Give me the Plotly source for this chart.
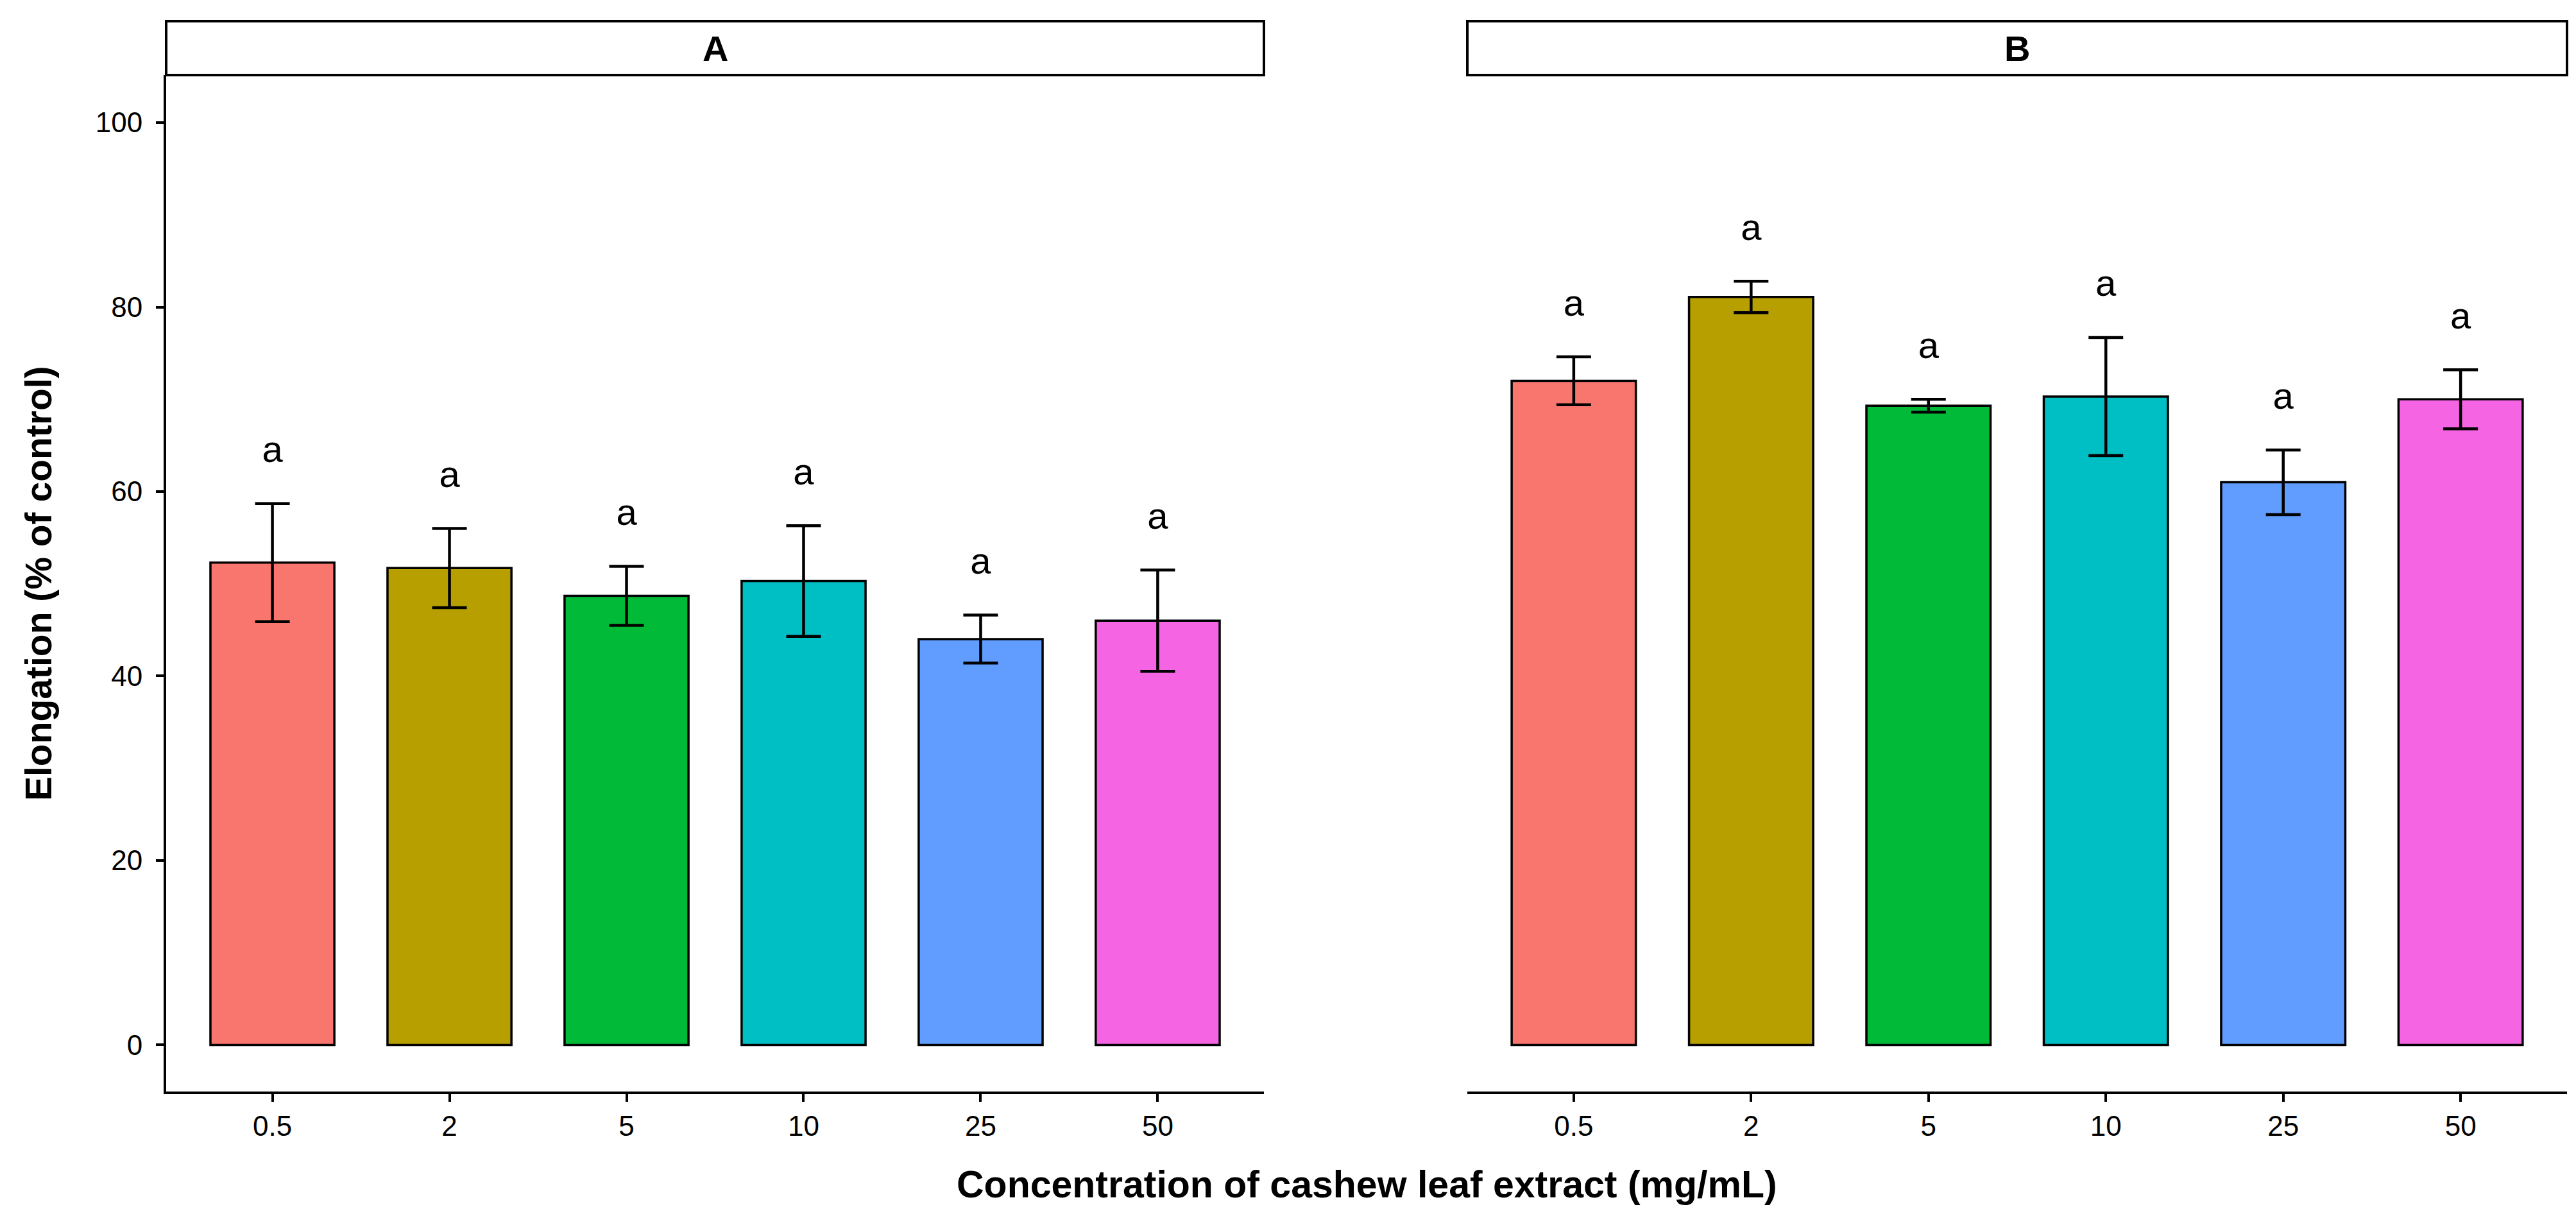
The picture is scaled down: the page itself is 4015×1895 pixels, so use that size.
import plotly.graph_objects as go

W, H = 4015, 1895

concentrations = ["0.5", "2", "5", "10", "25", "50"]
bar_colors = ["#F8766D", "#B79F00", "#00BA38", "#00BFC4", "#619CFF", "#F564E3"]

panel_labels = ["A", "B"]
mean_A = [52.3, 51.7, 48.7, 50.3, 44.0, 46.0]
sd_A = [6.4, 4.3, 3.2, 6.0, 2.6, 5.5]
mean_B = [72.0, 81.1, 69.3, 70.3, 61.0, 70.0]
sd_B = [2.6, 1.7, 0.7, 6.4, 3.5, 3.2]
letters_A = ["a", "a", "a", "a", "a", "a"]
letters_B = ["a", "a", "a", "a", "a", "a"]

y_ticks = [0, 20, 40, 60, 80, 100]
x_title = "Concentration of cashew leaf extract (mg/mL)"
y_title = "Elongation (% of control)"

FONT = "Liberation Sans, Arial, Helvetica, sans-serif"
LETTER_GAP = 5.5

def px_x(p):
    return p / W

def px_y(p):
    return 1 - p / H

domA = [px_x(251), px_x(1962)]
domB = [px_x(2279), px_x(3993)]
domY = [px_y(1693), px_y(109)]

fig = go.Figure()

panels = [
    (mean_A, sd_A, letters_A, "x", "y"),
    (mean_B, sd_B, letters_B, "x2", "y2"),
]
for means, sds, letters, xa, ya in panels:
    fig.add_trace(go.Bar(
        x=concentrations, y=means, xaxis=xa, yaxis=ya,
        width=0.7,
        marker=dict(color=bar_colors, line=dict(color="black", width=3.5)),
        error_y=dict(type="data", array=sds, visible=True,
                     color="black", thickness=4.5, width=27),
        showlegend=False, hoverinfo="skip",
    ))
    fig.add_trace(go.Scatter(
        x=concentrations, y=[m + s + LETTER_GAP for m, s in zip(means, sds)],
        xaxis=xa, yaxis=ya, mode="text", text=letters,
        textposition="middle center",
        textfont=dict(family=FONT, size=58, color="black"),
        showlegend=False, hoverinfo="skip",
    ))

xaxis_common = dict(
    type="category", range=[-0.6, 5.6],
    showline=True, linecolor="black", linewidth=4,
    ticks="outside", ticklen=12, tickwidth=4, tickcolor="black",
    tickfont=dict(family=FONT, size=44, color="black"),
    ticklabelstandoff=0,
    showgrid=False, zeroline=False, fixedrange=True,
)
yaxis_common = dict(
    range=[-5.05, 105.15], tickvals=y_ticks,
    showgrid=False, zeroline=False, fixedrange=True,
)

fig.update_layout(
    width=W, height=H,
    margin=dict(l=0, r=0, t=0, b=0),
    paper_bgcolor="white", plot_bgcolor="white",
    bargap=0.3,
    xaxis=dict(domain=domA, anchor="y", **xaxis_common),
    xaxis2=dict(domain=domB, anchor="y2", **xaxis_common),
    yaxis=dict(domain=domY, anchor="x",
               showline=True, linecolor="black", linewidth=4,
               ticks="outside", ticklen=12, tickwidth=4, tickcolor="black",
               tickfont=dict(family=FONT, size=44, color="black"),
               ticklabelstandoff=12,
               **yaxis_common),
    yaxis2=dict(domain=domY, anchor="x2", showline=False,
                showticklabels=False, ticks="", **yaxis_common),
)

# facet strips
strip_y0, strip_y1 = px_y(109), px_y(25)
for dom, lab in zip([domA, domB], panel_labels):
    fig.add_shape(type="rect", xref="paper", yref="paper",
                  x0=dom[0], x1=dom[1], y0=strip_y0, y1=strip_y1,
                  line=dict(color="black", width=4), fillcolor="white", layer="above")
    fig.add_annotation(xref="paper", yref="paper",
                       x=(dom[0] + dom[1]) / 2, y=px_y(67),
                       text="<b>%s</b>" % lab, showarrow=False,
                       xanchor="center", yanchor="middle",
                       font=dict(family=FONT, size=56, color="black"))

# axis titles
fig.add_annotation(xref="paper", yref="paper",
                   x=(domA[0] + domB[1]) / 2, y=px_y(1838),
                   text="<b>%s</b>" % x_title, showarrow=False,
                   xanchor="center", yanchor="middle",
                   font=dict(family=FONT, size=59, color="black"))
fig.add_annotation(xref="paper", yref="paper",
                   x=px_x(52), y=(domY[0] + domY[1]) / 2,
                   text="<b>%s</b>" % y_title, showarrow=False, textangle=-90,
                   xanchor="center", yanchor="middle",
                   font=dict(family=FONT, size=57, color="black"))

fig.write_html("out.html")
